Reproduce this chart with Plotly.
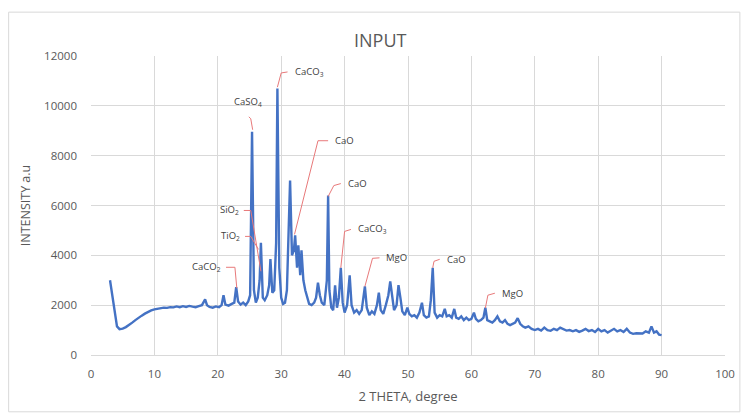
import plotly.graph_objects as go

# ---- data: diffraction pattern (2-theta, intensity) ----
two_theta = [3.0, 3.3, 3.7, 4.1, 4.5, 5.0, 5.5, 6.0, 6.5, 7.0, 7.5, 8.0, 8.5, 9.0, 9.5,
             10.0, 10.5, 11.0, 11.5, 12.0, 12.5, 13.0, 13.5, 14.0, 14.5, 15.0, 15.5, 16.0,
             16.5, 17.0, 17.5, 18.0, 18.3, 18.7, 19.2, 19.7, 20.2, 20.6, 20.9, 21.2, 21.7,
             22.2, 22.6, 22.9, 23.2, 23.6, 24.0, 24.4, 24.8, 25.1, 25.4, 25.7, 26.0, 26.3,
             26.6, 26.8, 27.1, 27.4, 27.8, 28.1, 28.3, 28.6, 28.9, 29.2, 29.4, 29.7, 30.0,
             30.3, 30.6, 30.9, 31.2, 31.4, 31.7, 32.0, 32.2, 32.5, 32.7, 33.0, 33.2, 33.5,
             33.8, 34.1, 34.4, 34.8, 35.2, 35.5, 35.8, 36.1, 36.4, 36.8, 37.2, 37.4, 37.6,
             37.9, 38.2, 38.5, 38.8, 39.1, 39.4, 39.7, 40.0, 40.4, 40.8, 41.1, 41.5, 41.9,
             42.3, 42.7, 43.2, 43.5, 43.9, 44.3, 44.7, 45.1, 45.4, 45.7, 46.1, 46.5, 46.9,
             47.2, 47.5, 47.8, 48.2, 48.5, 48.8, 49.1, 49.5, 49.9, 50.2, 50.6, 51.0, 51.4,
             51.8, 52.2, 52.5, 52.9, 53.3, 53.6, 53.9, 54.2, 54.6, 55.0, 55.4, 55.8, 56.1,
             56.5, 56.9, 57.3, 57.6, 58.0, 58.4, 58.8, 59.2, 59.6, 60.0, 60.4, 60.7, 61.1,
             61.5, 61.9, 62.2, 62.5, 62.9, 63.3, 63.7, 64.1, 64.5, 64.9, 65.3, 65.7, 66.1,
             66.5, 66.9, 67.3, 67.7, 68.1, 68.5, 69.0, 69.5, 70.0, 70.5, 71.0, 71.5, 72.0,
             72.5, 73.0, 73.5, 74.0, 74.5, 75.0, 75.5, 76.0, 76.5, 77.0, 77.5, 78.0, 78.5,
             79.0, 79.5, 80.0, 80.5, 81.0, 81.5, 82.0, 82.5, 83.0, 83.5, 84.0, 84.5, 85.0,
             85.5, 86.0, 86.5, 87.0, 87.5, 88.0, 88.4, 88.8, 89.2, 89.6, 90.0]
intensity = [3000, 2500, 1700, 1150, 1040, 1060, 1120, 1200, 1300, 1400, 1500, 1580, 1660, 1730, 1790,
             1830, 1860, 1880, 1900, 1890, 1920, 1910, 1950, 1920, 1960, 1930, 1970, 1940,
             1920, 1960, 2000, 2230, 2000, 1930, 1900, 1950, 1920, 2000, 2400, 2020, 1980,
             2050, 2100, 2720, 2150, 2020, 2100, 2000, 2150, 2400, 8960, 2600, 2100, 2300,
             3000, 4500, 2300, 2200, 2400, 2800, 3850, 2500, 2600, 4500, 10700, 3500, 2300,
             2050, 2100, 2600, 5000, 7000, 4000, 4200, 4800, 3500, 4400, 3200, 4200, 3000,
             2600, 2300, 2050, 2000, 2100, 2300, 2900, 2400, 2100, 2000, 3000, 6400, 2600,
             1900, 1800, 2800, 1900, 2300, 3500, 2100, 1700, 2000, 3200, 2000, 1700, 1800,
             1650, 1800, 2750, 1900, 1600, 1750, 1650, 2000, 2500, 1800, 1650, 2000, 2400,
             2950, 2300, 1800, 2000, 2800, 2300, 1750, 1600, 1900, 1650, 1550, 1600, 1500,
             1700, 2100, 1600, 1500, 1550, 2200, 3500, 1700, 1500, 1600, 1550, 1850, 1550,
             1600, 1500, 1850, 1500, 1450, 1550, 1400, 1500, 1400, 1450, 1700, 1450, 1350,
             1400, 1500, 1900, 1400, 1350, 1300, 1400, 1550, 1350, 1300, 1400, 1250, 1200,
             1250, 1300, 1480, 1250, 1150, 1100, 1150, 1050, 1000, 1050, 980, 1100, 1000,
             970, 1050, 1000, 1100, 1050, 980, 1000, 950, 1000, 930, 980, 1050, 960,
             1000, 920, 1050, 950, 1000, 900, 980, 1050, 950, 1000, 920, 1050, 900,
             850, 870, 880, 860, 950, 900, 1150, 900, 950, 820, 800]

# ---- peak labels ----
label_text = ["CaCO<sub>3</sub>", "CaSO<sub>4</sub>", "CaO", "CaO", "SiO<sub>2</sub>",
              "TiO<sub>2</sub>", "CaCO<sub>2</sub>", "CaCO<sub>3</sub>", "MgO", "CaO", "MgO"]
# leader line: tip (on peak) -> elbow -> end (next to text)
tip_x = [29.4, 25.5, 32.1, 37.4, 26.8, 26.4, 23.0, 39.4, 43.2, 53.9, 62.2]
tip_y = [10750, 9040, 4840, 6360, 3360, 4240, 2680, 3500, 2750, 3500, 1880]
elb_x = [30.0, 25.2, 35.8, 38.3, 25.2, 25.2, 22.7, 40.0, 44.4, 54.1, 62.6]
elb_y = [11320, 9480, 8600, 6800, 5800, 4760, 3520, 4960, 3880, 3760, 2400]
end_x = [31.0, 24.9, 37.4, 39.4, 24.1, 24.3, 21.3, 41.0, 45.5, 55.0, 63.7]
end_y = [11360, 9560, 8600, 6880, 5800, 4760, 3520, 5040, 3900, 3840, 2480]
txt_side = ["left", "center", "left", "left", "right", "right", "right", "left", "left", "left", "left"]

fig = go.Figure()
fig.add_trace(go.Scatter(x=two_theta, y=intensity, mode="lines",
                         line=dict(color="#4472C4", width=2.4), showlegend=False))

for i, t in enumerate(label_text):
    path = f"M {tip_x[i]},{tip_y[i]} L {elb_x[i]},{elb_y[i]} L {end_x[i]},{end_y[i]}"
    if txt_side[i] == "center":
        tx, ty, xa, ya = end_x[i] - 0.1, end_y[i] + 240, "center", "bottom"
    else:
        tx, ty = end_x[i], end_y[i]
        xa, ya = ("left", "middle") if txt_side[i] == "left" else ("right", "middle")
    fig.add_shape(type="path", path=path, xref="x", yref="y",
                  line=dict(color="#E8797A", width=1))
    fig.add_annotation(x=tx, y=ty, xref="x", yref="y", text=t, showarrow=False,
                       xanchor=xa, yanchor=ya, xshift=(5 if xa == "left" else (-3 if xa == "right" else 0)),
                       font=dict(family="Open Sans, Liberation Sans", size=9.5, color="#404040"))

# chart border
fig.add_shape(type="rect", xref="paper", yref="paper",
              x0=(8 - 91) / 639, x1=(745 - 91) / 639, y0=(356 - 413) / 300, y1=(356 - 12) / 300,
              line=dict(color="#D9D9D9", width=1), layer="below")

# title
fig.add_annotation(text="INPUT", xref="paper", yref="paper", x=(383 - 91) / 639, y=(356 - 40) / 300,
                   showarrow=False, xanchor="center", yanchor="middle",
                   font=dict(family="Open Sans, Liberation Sans", size=18, color="#595959"))

fig.update_layout(
    width=747, height=414,
    margin=dict(l=91, r=17, t=56, b=58),
    paper_bgcolor="white", plot_bgcolor="white",
    font=dict(family="Open Sans, Liberation Sans", size=10, color="#595959"),
    xaxis=dict(range=[0, 100], dtick=10, tick0=0, showgrid=True, gridcolor="#D9D9D9", gridwidth=1,
               zeroline=False, showline=True, linecolor="#D9D9D9", ticks="", ticklabelstandoff=8,
               tickfont=dict(size=11.5, color="#595959"),
               title=dict(text="2 THETA, degree", standoff=12, font=dict(size=13, color="#595959"))),
    yaxis=dict(range=[0, 12000], dtick=2000, tick0=0, tickformat="d", showgrid=True,
               gridcolor="#D9D9D9", gridwidth=1,
               zeroline=False, showline=False, ticks="", ticklabelstandoff=13,
               tickfont=dict(size=11.5, color="#595959"),
               title=dict(text="INTENSITY a.u", standoff=10, font=dict(size=12.5, color="#595959"))),
)

fig.write_html("out.html")
